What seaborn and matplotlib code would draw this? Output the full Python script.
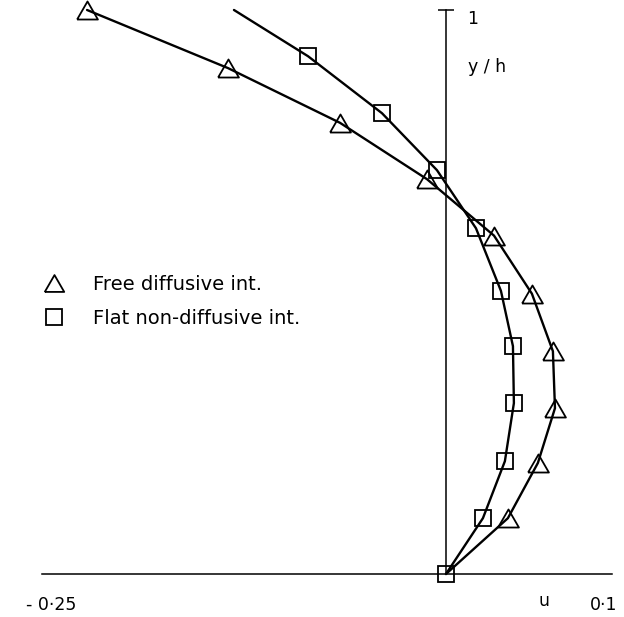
import matplotlib
matplotlib.use("Agg")
import matplotlib.pyplot as plt
from matplotlib.lines import Line2D
import seaborn as sns
import pandas as pd

# Velocity profiles u(y/h) for two interface conditions
free_y = [1.0, 0.897, 0.80, 0.70, 0.60, 0.497, 0.395, 0.294, 0.197, 0.099, 0.0]
free_u = [-0.2272, -0.138, -0.0671, -0.0120, 0.0304, 0.0544, 0.0677, 0.0690, 0.0582, 0.0392, 0.0]

flat_y = [1.0, 0.918, 0.817, 0.716, 0.613, 0.502, 0.404, 0.303, 0.200, 0.099, 0.0]
flat_u = [-0.1342, -0.0873, -0.0405, -0.0057, 0.0190, 0.0348, 0.0424, 0.0430, 0.0373, 0.0234, 0.0]

series_labels = ["Free diffusive int.", "Flat non-diffusive int."]
x_tick_values = [-0.25, 0.1]
x_tick_labels = ["- 0·25", "0·1"]
y_tick_values = [1.0]
y_tick_labels = ["1"]

free_df = pd.DataFrame({"u": free_u, "y": free_y})
flat_df = pd.DataFrame({"u": flat_u, "y": flat_y})

sns.set_theme(style="white")
plt.rcParams["font.family"] = ["DejaVu Sans"]
plt.rcParams["text.color"] = "black"
plt.rcParams["xtick.color"] = "black"
plt.rcParams["ytick.color"] = "black"

fig = plt.figure(figsize=(6.24, 6.17), dpi=100)
ax = fig.add_axes([0, 0, 1, 1])

# closed equilateral triangle outline
tri = [(-1, -0.866), (1, -0.866), (0, 0.866), (-1, -0.866)]
line_kw = dict(color="black", linewidth=1.7, estimator=None, sort=False,
               orient="y", markerfacecolor="none", markeredgecolor="black",
               markeredgewidth=1.3)

sns.lineplot(data=free_df, x="u", y="y", ax=ax, marker=tri, markersize=15,
             markevery=list(range(len(free_u) - 1)), **line_kw)
sns.lineplot(data=flat_df, x="u", y="y", ax=ax, marker="s", markersize=11.5,
             markevery=list(range(1, len(flat_u))), **line_kw)

ax.set_xlim(-0.2823, 0.1127)
ax.set_ylim(-0.0762, 1.0177)

# Cross-shaped axes through the origin
for side in ("top", "left"):
    ax.spines[side].set_visible(False)
ax.spines["right"].set_position(("data", 0))
ax.spines["right"].set_bounds(0, 1)
ax.spines["bottom"].set_position(("data", 0))
ax.spines["bottom"].set_bounds(-0.2557, 0.1051)
for side in ("right", "bottom"):
    ax.spines[side].set_color("black")
    ax.spines[side].set_linewidth(1.1)

ax.yaxis.tick_right()
ax.set_yticks(y_tick_values)
ax.set_yticklabels(y_tick_labels, fontsize=12.5, va="top")
ax.tick_params(axis="y", direction="inout", length=11, width=1.1,
               color="black", labelcolor="black", pad=10, right=True, left=False)

ax.set_xticks(x_tick_values)
ax.set_xticklabels(x_tick_labels, fontsize=12.5)
ax.tick_params(axis="x", length=0, pad=16, labelcolor="black")

ax.set_xlabel("")
ax.set_ylabel("")
ax.text(0.062, -0.048, "u", fontsize=12.5, ha="center", va="center", color="black")
ax.text(0.0139, 0.899, "y / h", fontsize=12.5, ha="left", va="center", color="black")
ax.grid(False)

handles = [
    Line2D([], [], linestyle="none", marker=tri, markersize=14,
           markerfacecolor="none", markeredgecolor="black", markeredgewidth=1.3),
    Line2D([], [], linestyle="none", marker="s", markersize=11,
           markerfacecolor="none", markeredgecolor="black", markeredgewidth=1.3),
]
leg = ax.legend(handles, series_labels, loc="upper left", frameon=False,
                bbox_to_anchor=(44 / 624, 1 - 275 / 617), bbox_transform=fig.transFigure,
                borderpad=0, borderaxespad=0, handlelength=1.0, handletextpad=1.5,
                labelspacing=0.75, fontsize=14)
for t in leg.get_texts():
    t.set_color("black")

fig.savefig("out.png", dpi=100)
